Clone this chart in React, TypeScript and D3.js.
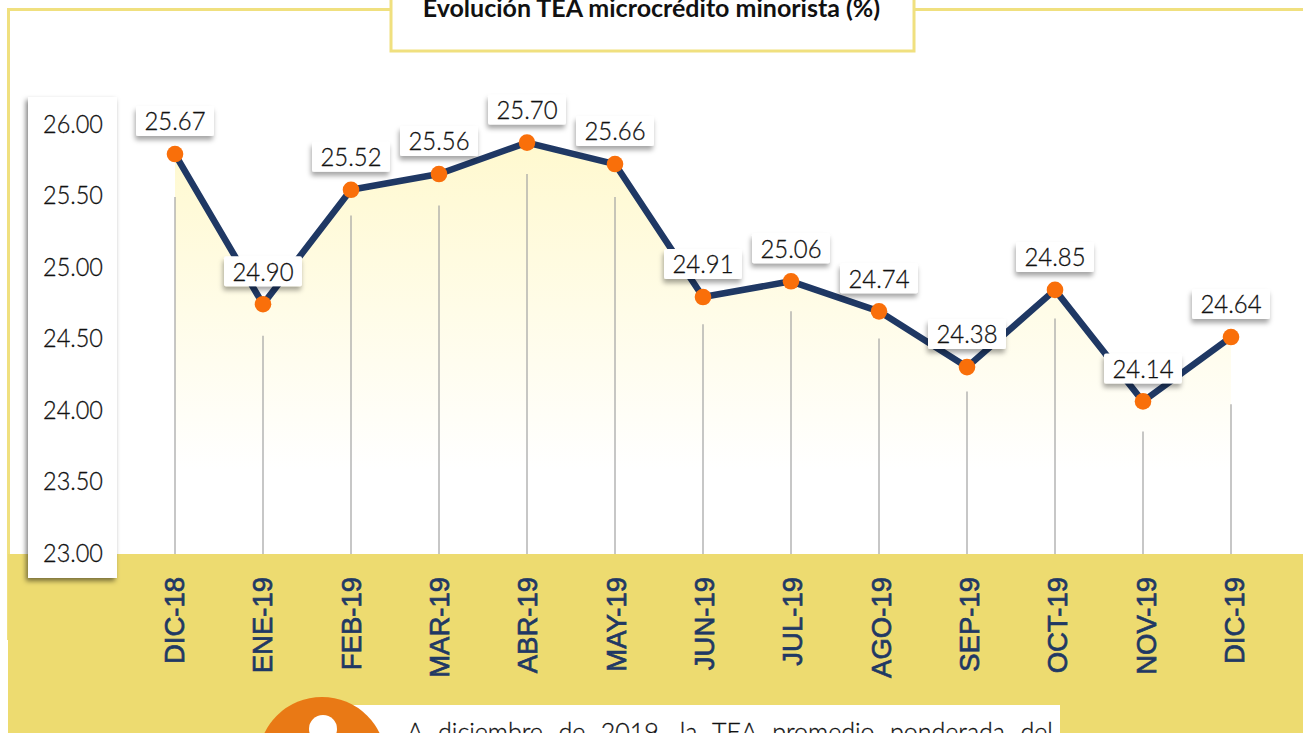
import { useEffect, useRef } from "react";
import * as d3 from "d3";

const months = ["DIC-18", "ENE-19", "FEB-19", "MAR-19", "ABR-19", "MAY-19", "JUN-19", "JUL-19", "AGO-19", "SEP-19", "OCT-19", "NOV-19", "DIC-19"];
// printed labels
const labels = ["25.67", "24.90", "25.52", "25.56", "25.70", "25.66", "24.91", "25.06", "24.74", "24.38", "24.85", "24.14", "24.64"];
// where the points sit when read against the axis (the source graphic does not match its labels)
const plotted = [25.79, 24.74, 25.54, 25.65, 25.87, 25.72, 24.79, 24.9, 24.69, 24.3, 24.84, 24.06, 24.51];
// top of each grey stem, read against the axis
const stemTops = [25.49, 24.52, 25.36, 25.43, 25.65, 25.49, 24.6, 24.69, 24.5, 24.13, 24.64, 23.85, 24.04];
const yTicks = [23, 23.5, 24, 24.5, 25, 25.5, 26];

const W = 1303;
const H = 733;
const bandTop = 554;
const yellow = "#eddb70";
const borderYellow = "#f0e07f";
const navy = "#1f3864";
const orange = "#f96f0a";
const sans = "Lato, 'Open Sans', sans-serif";

export default function App() {
  const ref = useRef<SVGSVGElement | null>(null);

  useEffect(() => {
    const svg = d3.select(ref.current);
    svg.selectAll("*").remove();

    const x = d3.scalePoint<string>().domain(months).range([175, 1231]);
    // the month labels in the source run a little wider than the points
    const xLabels = d3.scalePoint<string>().domain(months).range([174, 1234]);
    const y = d3.scaleLinear().domain([23, 26]).range([553, 124]);

    const defs = svg.append("defs");
    const grad = defs.append("linearGradient")
      .attr("id", "areaFill")
      .attr("gradientUnits", "userSpaceOnUse")
      .attr("x1", 0).attr("x2", 0).attr("y1", 150).attr("y2", 470);
    grad.append("stop").attr("offset", 0).attr("stop-color", "#fff9d0");
    grad.append("stop").attr("offset", 1).attr("stop-color", "#ffffff");

    const shadow = (id: string, dx: number, dy: number, blur: number, op: number) => {
      const f = defs.append("filter").attr("id", id)
        .attr("x", "-20%").attr("y", "-30%").attr("width", "140%").attr("height", "170%");
      f.append("feDropShadow")
        .attr("dx", dx).attr("dy", dy).attr("stdDeviation", blur)
        .attr("flood-color", "#000").attr("flood-opacity", op);
    };
    shadow("boxShadow", -1, 4, 2.5, 0.35);
    shadow("panelShadow", -2, 3, 2.5, 0.5);

    svg.append("rect").attr("width", W).attr("height", H).attr("fill", "#fff");

    // yellow frame
    svg.append("path")
      .attr("d", `M8.5,640V9.5H${W}`)
      .attr("fill", "none").attr("stroke", borderYellow).attr("stroke-width", 3);

    // area under the line
    const area = d3.area<number>()
      .x((_, i) => x(months[i])!)
      .y0(y(23))
      .y1((d) => y(d));
    svg.append("path").datum(plotted).attr("d", area).attr("fill", "url(#areaFill)");

    // stems
    svg.append("g").selectAll("line").data(stemTops).join("line")
      .attr("x1", (_, i) => x(months[i])!)
      .attr("x2", (_, i) => x(months[i])!)
      .attr("y1", (d) => y(d))
      .attr("y2", bandTop)
      .attr("stroke", "#a2a2a2").attr("stroke-width", 1.2);

    // bottom band
    svg.append("rect").attr("x", 8).attr("y", bandTop).attr("width", W - 8).attr("height", H - bandTop).attr("fill", yellow);

    // title box
    svg.append("rect").attr("x", 391).attr("y", -10).attr("width", 523).attr("height", 61)
      .attr("fill", "#fff").attr("stroke", borderYellow).attr("stroke-width", 3);
    svg.append("text").attr("x", 651.5).attr("y", 17).attr("text-anchor", "middle")
      .attr("font-family", sans).attr("font-size", 25).attr("font-weight", 700).attr("fill", "#111")
      .text("Evolución TEA microcrédito minorista (%)");

    // y axis panel
    svg.append("rect").attr("x", 28).attr("y", 97).attr("width", 89).attr("height", 481)
      .attr("fill", "#fff").attr("filter", "url(#panelShadow)");
    const yAxis = svg.append("g").attr("transform", "translate(103,0)")
      .call(d3.axisLeft(y).tickValues(yTicks).tickFormat(d3.format(".2f")).tickSize(0).tickPadding(0));
    yAxis.select(".domain").remove();
    yAxis.selectAll("text")
      .attr("font-family", sans).attr("font-size", 26).attr("font-weight", 300).attr("fill", "#111")
      .attr("stroke", "#111").attr("stroke-width", 0.3)
      .attr("textLength", 60).attr("lengthAdjust", "spacingAndGlyphs");

    // x axis labels
    const xAxis = svg.append("g").attr("transform", `translate(0,${bandTop})`)
      .call(d3.axisBottom(xLabels).tickSize(0));
    xAxis.select(".domain").remove();
    xAxis.selectAll("text")
      .attr("transform", "rotate(-90)")
      .attr("text-anchor", "end")
      .attr("x", -23)
      .attr("y", 0)
      .attr("dy", "0.34em")
      .attr("font-family", "'Liberation Sans', Arial, sans-serif")
      .attr("font-size", 27.5)
      .attr("fill", navy)
      .attr("stroke", navy)
      .attr("stroke-width", 0.7);

    // line and points
    const line = d3.line<number>().x((_, i) => x(months[i])!).y((d) => y(d));
    svg.append("path").datum(plotted).attr("d", line)
      .attr("fill", "none").attr("stroke", navy).attr("stroke-width", 6.5).attr("stroke-linejoin", "round");
    svg.append("g").selectAll("circle").data(plotted).join("circle")
      .attr("cx", (_, i) => x(months[i])!)
      .attr("cy", (d) => y(d))
      .attr("r", 8.3)
      .attr("fill", orange);

    // value labels
    const tags = svg.append("g").selectAll("g").data(plotted).join("g")
      .attr("transform", (d, i) => `translate(${x(months[i])},${y(d) - 18})`);
    tags.append("rect")
      .attr("x", -39).attr("y", -30).attr("width", 78).attr("height", 30).attr("rx", 2)
      .attr("fill", "#fff").attr("filter", "url(#boxShadow)");
    tags.append("text")
      .attr("y", -15).attr("dy", "0.36em").attr("text-anchor", "middle")
      .attr("font-family", sans).attr("font-size", 26).attr("font-weight", 300).attr("fill", "#111")
      .attr("stroke", "#111").attr("stroke-width", 0.3)
      .attr("textLength", 61).attr("lengthAdjust", "spacingAndGlyphs")
      .text((_, i) => labels[i]);

    // note at the bottom, cut off by the page edge
    svg.append("rect").attr("x", 307).attr("y", 705).attr("width", 753).attr("height", 40).attr("fill", "#fff");
    svg.append("circle").attr("cx", 322).attr("cy", 761).attr("r", 64).attr("fill", "#e97915");
    svg.append("circle").attr("cx", 323).attr("cy", 729).attr("r", 14).attr("fill", "#fff");
    const note = svg.append("text").attr("x", 407).attr("y", 741)
      .attr("font-family", sans).attr("font-size", 25).attr("font-weight", 300).attr("fill", "#111")
      .attr("stroke", "#111").attr("stroke-width", 0.3)
      .text("A diciembre de 2019, la TEA promedio ponderada del");
    // justified in the source: spread the spare width over the word gaps
    const spare = 637 - (note.node() as SVGTextElement).getComputedTextLength();
    note.attr("word-spacing", spare / 7);
  }, []);

  return (
    <svg
      ref={ref}
      width={W}
      height={H}
      style={{ position: "absolute", left: 0, top: 0, display: "block" }}
    />
  );
}
